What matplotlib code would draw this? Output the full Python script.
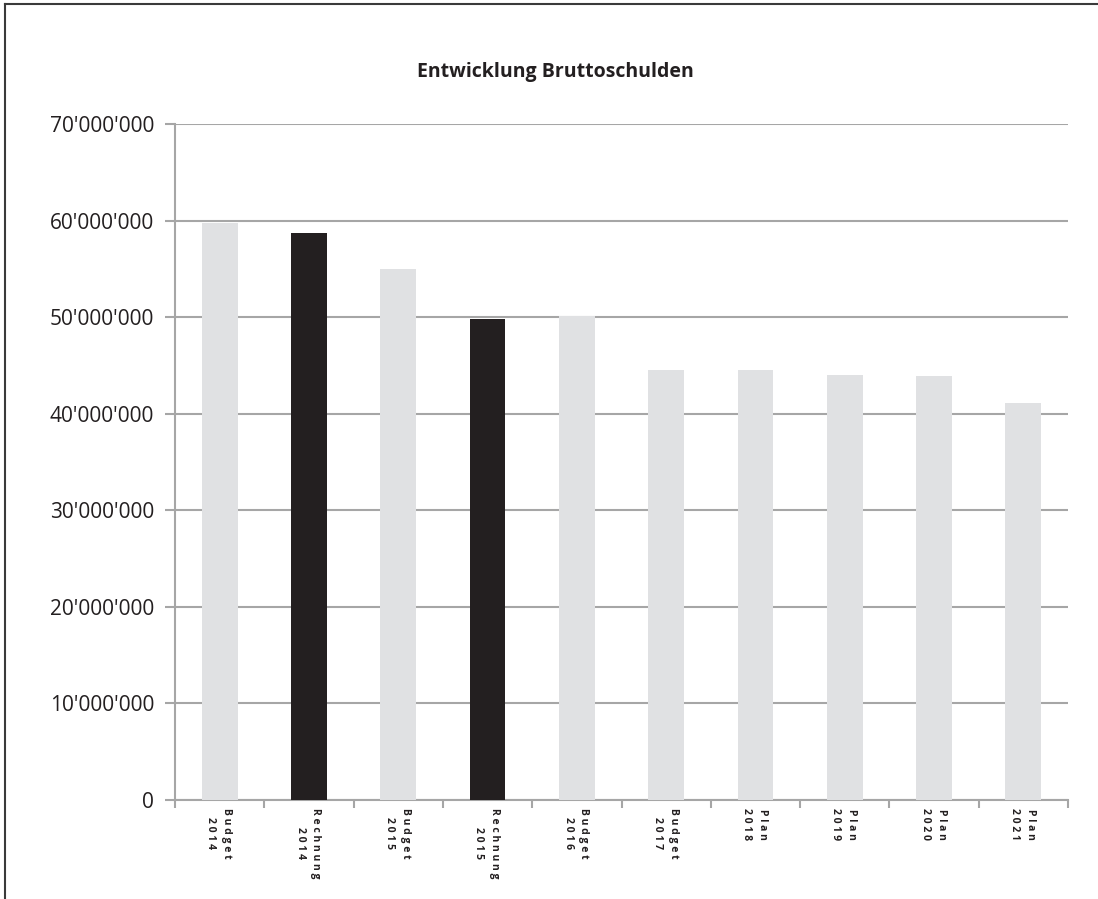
import matplotlib.pyplot as plt
from matplotlib.lines import Line2D
from matplotlib.ticker import FuncFormatter

# Data
categories = ['Budget\n2014', 'Rechnung\n2014', 'Budget\n2015', 'Rechnung\n2015', 'Budget\n2016',
              'Budget\n2017', 'Plan\n2018', 'Plan\n2019', 'Plan\n2020', 'Plan\n2021']
values = [59.75e6, 58.7e6, 55.0e6, 49.8e6, 50.1e6, 44.5e6, 44.5e6, 44.0e6, 43.9e6, 41.1e6]
is_actual = [False, True, False, True, False, False, False, False, False, False]

light = '#e0e1e3'
dark = '#231f20'
grid_col = '#a6a6a6'

fig = plt.figure(figsize=(10.98, 8.99), dpi=100)
ax = fig.add_axes([175 / 1098, 1 - 800 / 899, (1068 - 175) / 1098, (800 - 124) / 899])

x = list(range(len(categories)))
colors = [dark if a else light for a in is_actual]
ax.bar(x, values, width=0.4, color=colors, zorder=3)

ax.set_xlim(-0.5, len(categories) - 0.5)
ax.set_ylim(0, 70e6)
ax.set_yticks([i * 10e6 for i in range(8)])
ax.yaxis.set_major_formatter(FuncFormatter(lambda v, p: f"{int(v):,}".replace(',', "'")))
ax.tick_params(axis='y', length=7, width=1.5, color=grid_col, labelsize=15,
               labelcolor='#231f20', pad=8)
for lbl in ax.get_yticklabels():
    lbl.set_fontfamily('Open Sans')

ax.grid(axis='y', color=grid_col, linewidth=1.5, zorder=0)
ax.set_axisbelow(True)
for s in ['top', 'right']:
    ax.spines[s].set_visible(False)
for s in ['left', 'bottom']:
    ax.spines[s].set_color(grid_col)
    ax.spines[s].set_linewidth(1.5)

# category boundary ticks on x
ax.set_xticks([i - 0.5 for i in range(len(categories) + 1)])
ax.set_xticklabels([])
ax.tick_params(axis='x', length=6, width=1.5, color=grid_col)


def spaced(s):
    return '\n'.join(' '.join(line) for line in s.split('\n'))


for i, c in enumerate(categories):
    ax.text(i - 0.01, -0.012, spaced(c), transform=ax.get_xaxis_transform(),
            rotation=270, ha='center', va='top', fontsize=7.5, fontweight='bold',
            family='Open Sans', color='#231f20', linespacing=1.6)

fig.text(555 / 1098, 1 - 72 / 899, 'Entwicklung Bruttoschulden', ha='center', va='center',
         fontsize=14, fontweight='bold', family='Open Sans', color='#231f20')

# frame around the figure (top and left)
fig.add_artist(Line2D([5 / 1098, 1], [1 - 4 / 899, 1 - 4 / 899], color='#3a3a3a', linewidth=1.5,
                      transform=fig.transFigure))
fig.add_artist(Line2D([5 / 1098, 5 / 1098], [0, 1 - 4 / 899], color='#3a3a3a', linewidth=1.5,
                      transform=fig.transFigure))

fig.savefig('out.png', dpi=100)
